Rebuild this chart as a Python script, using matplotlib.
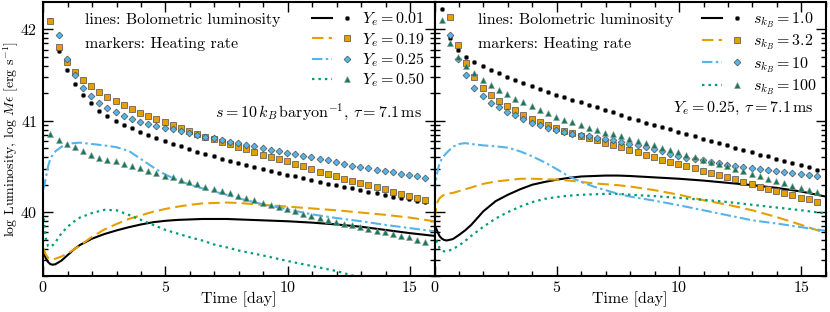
import matplotlib
matplotlib.use("Agg")
import matplotlib.pyplot as plt
import numpy as np
from matplotlib.ticker import FixedLocator, MultipleLocator
from matplotlib.legend_handler import HandlerTuple
from matplotlib.lines import Line2D

plt.rcParams['font.family'] = 'serif'
plt.rcParams['font.serif'] = ['cmr10']
plt.rcParams['mathtext.fontset'] = 'cm'
plt.rcParams['axes.formatter.use_mathtext'] = True
plt.rcParams['font.size'] = 11

# ---------------- data ----------------
t_line = [0, 0.05, 0.1, 0.2, 0.3, 0.4, 0.5, 0.75, 1.0, 1.25, 1.5, 2.0, 2.5, 3.0, 3.5,
          4.0, 4.5, 5.0, 5.5, 6.0, 6.5, 7.0, 7.5, 8, 9, 10, 11, 12, 13, 14, 15, 16]
t_mark = [0.30, 0.63, 0.97, 1.30, 1.63, 1.97, 2.30, 2.63, 2.97, 3.30, 3.63, 3.97, 4.30,
          4.63, 4.97, 5.30, 5.63, 5.97, 6.30, 6.63, 6.97, 7.30, 7.63, 7.97, 8.30, 8.63,
          8.97, 9.30, 9.63, 9.97, 10.30, 10.63, 10.97, 11.30, 11.63, 11.97, 12.30, 12.63,
          12.97, 13.30, 13.63, 13.97, 14.30, 14.63, 14.97, 15.30, 15.63]

ye_labels = [r'$Y_e = 0.01$', r'$Y_e = 0.19$', r'$Y_e = 0.25$', r'$Y_e = 0.50$']
s_labels = [r'$s_{k_B} = 1.0$', r'$s_{k_B} = 3.2$', r'$s_{k_B} = 10$', r'$s_{k_B} = 100$']

# Left panel: bolometric luminosity lines
L_ye001 = [39.53, 39.54, 39.50, 39.455, 39.43, 39.425, 39.43, 39.47, 39.53, 39.59, 39.64,
           39.71, 39.76, 39.80, 39.835, 39.865, 39.89, 39.905, 39.915, 39.92, 39.925, 39.925,
           39.925, 39.92, 39.91, 39.90, 39.885, 39.865, 39.84, 39.805, 39.77, 39.74]
L_ye019 = [39.60, 39.58, 39.54, 39.50, 39.485, 39.485, 39.49, 39.515, 39.55, 39.59, 39.635,
           39.73, 39.81, 39.87, 39.925, 39.965, 40.005, 40.035, 40.06, 40.08, 40.095, 40.10,
           40.105, 40.10, 40.08, 40.06, 40.04, 40.02, 39.995, 39.97, 39.94, 39.90]
L_ye025 = [40.25, 40.30, 40.36, 40.50, 40.59, 40.63, 40.665, 40.715, 40.745, 40.755, 40.76,
           40.745, 40.73, 40.71, 40.67, 40.58, 40.49, 40.41, 40.35, 40.30, 40.26, 40.225,
           40.19, 40.15, 40.085, 40.03, 39.975, 39.935, 39.90, 39.86, 39.825, 39.79]
L_ye050 = [40.00, 39.85, 39.72, 39.63, 39.62, 39.64, 39.67, 39.77, 39.84, 39.895, 39.94,
           39.99, 40.025, 40.02, 39.97, 39.915, 39.86, 39.805, 39.765, 39.725, 39.69, 39.645,
           39.615, 39.58, 39.525, 39.465, 39.41, 39.355, 39.28, 39.21, 39.14, 39.07]

# Left panel: heating rate markers
H_ye001 = [42.10, 41.76, 41.55, 41.40, 41.28, 41.19, 41.11, 41.05, 41.00, 40.95,
           40.92, 40.88, 40.845, 40.81, 40.78, 40.75, 40.72, 40.69, 40.66, 40.635,
           40.61, 40.585, 40.56, 40.54, 40.515, 40.495, 40.47, 40.45, 40.43, 40.41,
           40.39, 40.37, 40.35, 40.33, 40.31, 40.295, 40.275, 40.26, 40.24, 40.22,
           40.205, 40.19, 40.17, 40.155, 40.14, 40.125, 40.11]
H_ye019 = [42.09, 41.81, 41.64, 41.53, 41.45, 41.38, 41.31, 41.26, 41.215, 41.17,
           41.125, 41.08, 41.05, 41.015, 40.985, 40.95, 40.92, 40.89, 40.86, 40.825,
           40.80, 40.77, 40.74, 40.715, 40.69, 40.66, 40.63, 40.605, 40.58, 40.555,
           40.525, 40.50, 40.475, 40.44, 40.415, 40.39, 40.365, 40.34, 40.32, 40.30,
           40.275, 40.25, 40.225, 40.20, 40.18, 40.155, 40.13]
H_ye025 = [42.38, 41.94, 41.67, 41.50, 41.36, 41.27, 41.195, 41.135, 41.09, 41.05,
           41.02, 40.99, 40.965, 40.945, 40.925, 40.905, 40.885, 40.865, 40.845, 40.825,
           40.81, 40.79, 40.77, 40.755, 40.735, 40.72, 40.70, 40.685, 40.665, 40.65,
           40.635, 40.615, 40.60, 40.58, 40.565, 40.545, 40.53, 40.51, 40.495, 40.48,
           40.465, 40.45, 40.435, 40.42, 40.405, 40.39, 40.375]
H_ye050 = [40.86, 40.79, 40.74, 40.71, 40.665, 40.625, 40.595, 40.575, 40.555, 40.53,
           40.51, 40.48, 40.455, 40.43, 40.40, 40.38, 40.355, 40.33, 40.305, 40.28,
           40.255, 40.23, 40.205, 40.18, 40.155, 40.13, 40.105, 40.08, 40.055, 40.03,
           40.01, 39.985, 39.96, 39.94, 39.915, 39.895, 39.875, 39.855, 39.835, 39.815,
           39.795, 39.78, 39.76, 39.74, 39.725, 39.695, 39.675]

# Right panel: bolometric luminosity lines
L_s1 = [39.85, 39.83, 39.80, 39.74, 39.71, 39.695, 39.69, 39.705, 39.75, 39.80, 39.86,
        40.01, 40.12, 40.19, 40.25, 40.30, 40.33, 40.355, 40.375, 40.39, 40.395, 40.40,
        40.40, 40.395, 40.38, 40.365, 40.345, 40.32, 40.295, 40.265, 40.225, 40.17]
L_s3 = [39.92, 40.02, 40.10, 40.15, 40.175, 40.19, 40.20, 40.21, 40.23, 40.25, 40.27,
        40.31, 40.335, 40.35, 40.365, 40.365, 40.36, 40.355, 40.345, 40.33, 40.315, 40.305,
        40.295, 40.28, 40.24, 40.19, 40.13, 40.08, 40.02, 39.945, 39.86, 39.77]
L_s10 = [40.20, 40.33, 40.42, 40.53, 40.585, 40.62, 40.65, 40.715, 40.745, 40.755, 40.745,
         40.73, 40.72, 40.705, 40.665, 40.61, 40.545, 40.47, 40.39, 40.33, 40.28, 40.24,
         40.20, 40.17, 40.125, 40.075, 40.02, 39.965, 39.91, 39.875, 39.835, 39.795]
L_s100 = [39.76, 39.71, 39.67, 39.61, 39.58, 39.57, 39.57, 39.595, 39.635, 39.685, 39.74,
          39.84, 39.93, 40.00, 40.06, 40.11, 40.145, 40.165, 40.18, 40.19, 40.195, 40.20,
          40.20, 40.19, 40.175, 40.155, 40.135, 40.11, 40.08, 40.05, 40.02, 39.985]

# Right panel: heating rate markers
H_s1 = [42.22, 41.90, 41.77, 41.70, 41.64, 41.60, 41.56, 41.52, 41.48, 41.44,
        41.41, 41.375, 41.345, 41.31, 41.285, 41.255, 41.23, 41.20, 41.175, 41.145,
        41.115, 41.09, 41.06, 41.035, 41.005, 40.98, 40.955, 40.93, 40.905, 40.88,
        40.855, 40.83, 40.805, 40.78, 40.755, 40.73, 40.705, 40.68, 40.655, 40.63,
        40.61, 40.585, 40.56, 40.54, 40.515, 40.49, 40.465]
H_s3 = [42.45, 42.13, 41.83, 41.63, 41.48, 41.36, 41.28, 41.22, 41.16, 41.115,
        41.06, 41.02, 40.99, 40.95, 40.915, 40.89, 40.865, 40.835, 40.81, 40.785,
        40.76, 40.735, 40.71, 40.685, 40.66, 40.63, 40.60, 40.575, 40.55, 40.525,
        40.50, 40.48, 40.455, 40.43, 40.41, 40.385, 40.36, 40.33, 40.305, 40.28,
        40.255, 40.23, 40.21, 40.185, 40.16, 40.14, 40.115]
H_s10 = [42.50, 41.94, 41.68, 41.50, 41.36, 41.27, 41.195, 41.145, 41.10, 41.06,
         41.02, 40.975, 40.95, 40.92, 40.90, 40.88, 40.86, 40.845, 40.83, 40.815,
         40.80, 40.785, 40.77, 40.75, 40.73, 40.71, 40.69, 40.665, 40.64, 40.615,
         40.595, 40.58, 40.565, 40.55, 40.535, 40.52, 40.505, 40.495, 40.485, 40.47,
         40.46, 40.445, 40.435, 40.425, 40.415, 40.405, 40.39]
H_s100 = [42.10, 41.85, 41.70, 41.60, 41.52, 41.45, 41.39, 41.335, 41.29, 41.24,
          41.20, 41.16, 41.115, 41.08, 41.04, 41.01, 40.985, 40.95, 40.92, 40.895,
          40.87, 40.85, 40.83, 40.80, 40.775, 40.755, 40.73, 40.705, 40.68, 40.655,
          40.625, 40.60, 40.575, 40.55, 40.525, 40.50, 40.47, 40.445, 40.42, 40.39,
          40.365, 40.34, 40.315, 40.29, 40.265, 40.24, 40.22]

# ---------------- styles ----------------
line_styles = [dict(color='black', ls='-', lw=1.5),
               dict(color='#E69F00', ls=(0, (5.5, 2.5)), lw=1.5),
               dict(color='#56B4E9', ls=(0, (5, 1.6, 1.2, 1.6)), lw=1.5),
               dict(color='#009E73', ls=(0, (1.1, 1.8)), lw=1.6)]
marker_styles = [dict(marker='o', ms=3.3, mfc='black', mec='0.5', mew=0.4),
                 dict(marker='s', ms=3.7, mfc='#E69F00', mec='0.3', mew=0.5),
                 dict(marker='D', ms=3.5, mfc='#56B4E9', mec='0.3', mew=0.5),
                 dict(marker='^', ms=4.0, mfc='#137a5c', mec='0.6', mew=0.4)]

fig, axes = plt.subplots(1, 2, figsize=(8.3, 3.12), dpi=100, sharey=True)
fig.subplots_adjust(left=0.052, right=0.995, bottom=0.115, top=0.994, wspace=0)

panels = [
    (axes[0], [L_ye001, L_ye019, L_ye025, L_ye050], [H_ye001, H_ye019, H_ye025, H_ye050],
     ye_labels, r'$s = 10\,k_B\,\mathrm{baryon}^{-1}$, $\tau = 7.1\,\mathrm{ms}$', 0.598, 0.107),
    (axes[1], [L_s1, L_s3, L_s10, L_s100], [H_s1, H_s3, H_s10, H_s100],
     s_labels, r'$Y_e = 0.25$, $\tau = 7.1\,\mathrm{ms}$', 0.612, 0.11),
]

yminor = [n + np.log10(k) for n in range(38, 43) for k in range(2, 10)]

for ax, lines, heats, labels, note, note_y, tx in panels:
    handles = []
    for L, H, lst, mst in zip(lines, heats, line_styles, marker_styles):
        ax.plot(t_line, L, zorder=2, **lst)
        ax.plot(t_mark, H, ls='none', zorder=3, **mst)
        handles.append((Line2D([], [], **lst), Line2D([], [], ls='none', **mst)))
    ax.legend(handles, labels, handler_map={tuple: HandlerTuple(ndivide=None, pad=0.3)},
              loc='upper right', frameon=False, handlelength=2.8, labelspacing=0.16,
              borderaxespad=0.2, borderpad=0.35, handletextpad=0.35, fontsize=11.5)
    ax.text(tx, 0.934, 'lines: Bolometric luminosity',
            transform=ax.transAxes, ha='left', va='center', fontsize=11.5)
    ax.text(tx, 0.848, 'markers: Heating rate',
            transform=ax.transAxes, ha='left', va='center', fontsize=11.5)
    ax.text(0.967, note_y, note, transform=ax.transAxes, ha='right', va='center', fontsize=11.5)
    ax.set_xlim(0, 16)
    ax.set_ylim(39.3, 42.3)
    ax.set_xticks([0, 5, 10, 15])
    ax.xaxis.set_minor_locator(MultipleLocator(1))
    ax.set_yticks([40, 41, 42])
    ax.yaxis.set_minor_locator(FixedLocator(yminor))
    ax.tick_params(which='both', direction='in', top=True, right=True, width=1)
    ax.tick_params(which='major', length=7, labelsize=11.5)
    ax.tick_params(axis='x', which='major', pad=3)
    ax.tick_params(axis='y', which='major', pad=4)
    ax.tick_params(which='minor', length=3.5)
    for sp in ax.spines.values():
        sp.set_linewidth(1.5)
    ax.set_xlabel('Time [day]', fontsize=11.5, labelpad=-3)

axes[1].tick_params(labelleft=False)
axes[0].set_ylabel(r'log Luminosity, log $M\epsilon$ [erg s$^{-1}$]', fontsize=10)
axes[0].yaxis.set_label_coords(-0.056, 0.5)

fig.savefig('out.png', dpi=100)
